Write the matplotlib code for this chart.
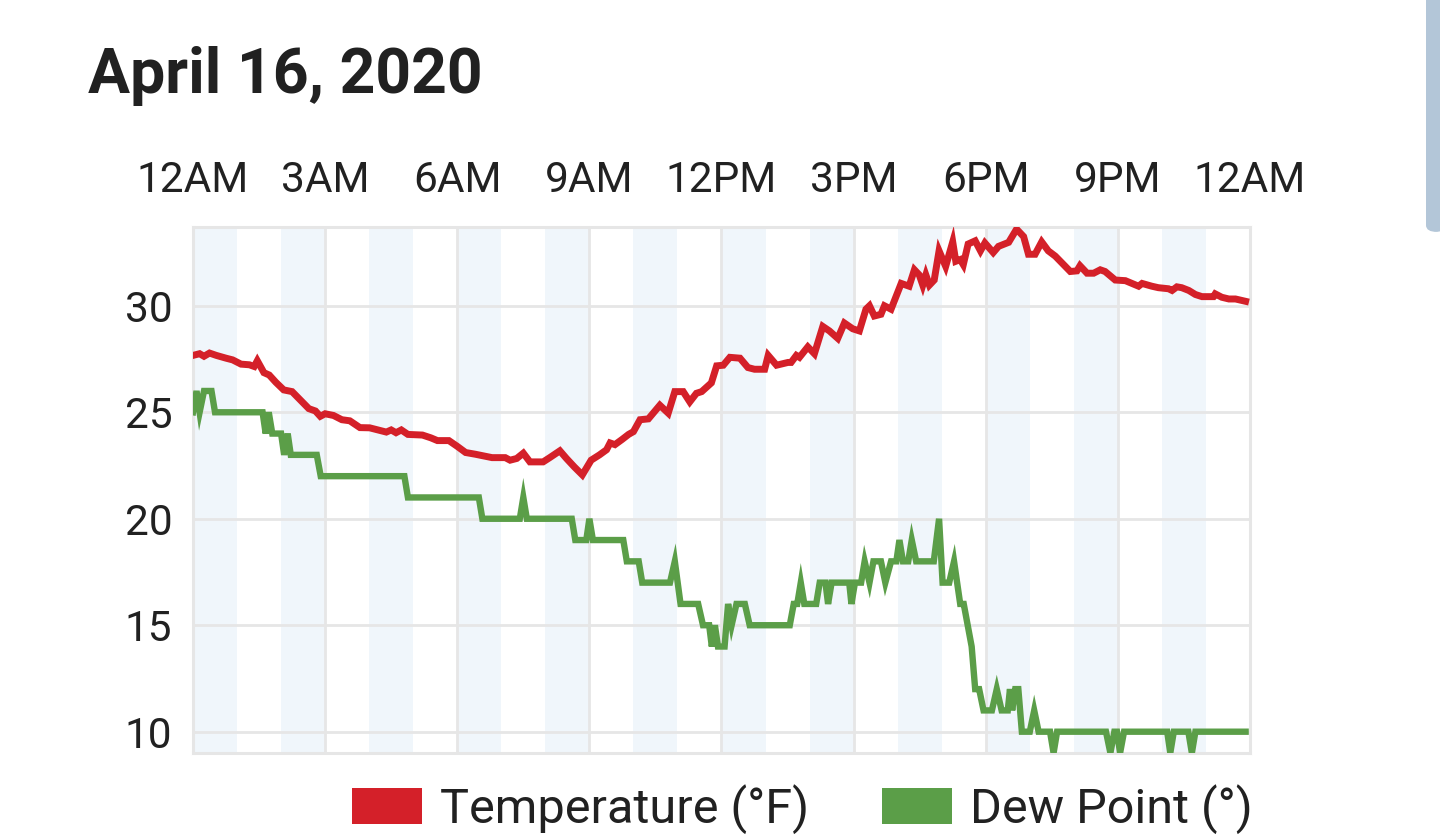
import matplotlib
matplotlib.use("Agg")
import matplotlib.pyplot as plt
from matplotlib.patches import Patch, FancyBboxPatch

plt.rcParams['font.family'] = ['Roboto', 'DejaVu Sans']

title = "April 16, 2020"
x_ticks = [0, 3, 6, 9, 12, 15, 18, 21, 24]
x_labels = ["12AM", "3AM", "6AM", "9AM", "12PM", "3PM", "6PM", "9PM", "12AM"]
y_ticks = [10, 15, 20, 25, 30]
shade_starts = [0, 2, 4, 6, 8, 10, 12, 14, 16, 18, 20, 22]

temp_h = [0.0, 0.15, 0.25, 0.375, 0.53, 0.75, 0.9, 1.09, 1.28, 1.39, 1.46, 1.61, 1.73, 1.88,
          2.06, 2.25, 2.44, 2.63, 2.78, 2.89, 3.0, 3.19, 3.38, 3.56, 3.79, 4.01, 4.2, 4.39,
          4.5, 4.61, 4.73, 4.88, 5.21, 5.4, 5.55, 5.81, 6.0, 6.19, 6.41, 6.6, 6.79, 7.09,
          7.2, 7.35, 7.5, 7.65, 7.95, 8.1, 8.33, 8.48, 8.66, 8.84, 9.04, 9.23, 9.39, 9.47,
          9.58, 9.74, 9.89, 10.0, 10.15, 10.34, 10.6, 10.79, 10.94, 11.13, 11.28, 11.43,
          11.55, 11.77, 11.89, 12.04, 12.19, 12.42, 12.6, 12.75, 12.98, 13.06, 13.25, 13.51,
          13.58, 13.7, 13.77, 13.96, 14.11, 14.3, 14.45, 14.64, 14.79, 14.98, 15.13, 15.28,
          15.36, 15.47, 15.62, 15.7, 15.85, 16.08, 16.26, 16.38, 16.49, 16.57, 16.64, 16.72,
          16.83, 16.94, 17.09, 17.25, 17.32, 17.42, 17.49, 17.6, 17.76, 17.88, 17.98, 18.17,
          18.29, 18.52, 18.7, 18.86, 18.97, 19.12, 19.27, 19.42, 19.58, 19.73, 19.92, 20.07,
          20.14, 20.3, 20.45, 20.6, 20.71, 20.94, 21.17, 21.32, 21.47, 21.55, 21.77, 21.92,
          22.15, 22.23, 22.34, 22.45, 22.61, 22.76, 22.91, 23.17, 23.21, 23.36, 23.52, 23.67,
          23.9]
temp_v = [27.67, 27.75, 27.63, 27.78, 27.67, 27.54, 27.46, 27.26, 27.23, 27.15, 27.42, 26.86,
          26.75, 26.41, 26.05, 25.97, 25.57, 25.17, 25.06, 24.81, 24.93, 24.85, 24.65, 24.6,
          24.28, 24.27, 24.17, 24.07, 24.17, 24.04, 24.17, 23.96, 23.93, 23.8, 23.67, 23.67,
          23.4, 23.11, 23.03, 22.95, 22.87, 22.87, 22.75, 22.83, 23.08, 22.67, 22.67, 22.87,
          23.19, 22.83, 22.43, 22.06, 22.75, 23.0, 23.24, 23.56, 23.48, 23.72, 23.96, 24.09,
          24.65, 24.69, 25.33, 24.96, 25.97, 25.97, 25.49, 25.89, 25.97, 26.38, 27.18, 27.21,
          27.58, 27.54, 27.1, 27.02, 27.02, 27.67, 27.21, 27.34, 27.34, 27.67, 27.58, 28.07,
          27.75, 29.03, 28.82, 28.47, 29.19, 28.92, 28.82, 29.84, 30.0, 29.52, 29.6, 30.0,
          29.84, 31.05, 30.92, 31.69, 31.45, 30.97, 31.45, 30.97, 31.21, 32.58, 31.85, 33.0,
          32.09, 32.17, 31.93, 32.9, 33.05, 32.58, 32.95, 32.5, 32.79, 32.98, 33.6, 33.25,
          32.42, 32.42, 33.0, 32.58, 32.33, 32.01, 31.61, 31.64, 31.88, 31.53, 31.53, 31.69,
          31.61, 31.21, 31.18, 31.05, 30.92, 31.05, 30.92, 30.85, 30.8, 30.72, 30.89, 30.85,
          30.72, 30.53, 30.43, 30.43, 30.56, 30.4, 30.32, 30.32, 30.21]

dew_h = [0.0, 0.08, 0.15, 0.25, 0.42, 0.5, 1.58, 1.65, 1.72, 1.8, 2.0, 2.07, 2.15, 2.22, 2.81,
         2.9, 4.8, 4.88, 6.49, 6.57, 7.42, 7.5, 7.58, 8.6, 8.68, 8.93, 9.0, 9.08, 9.77, 9.85,
         10.12, 10.2, 10.83, 10.94, 11.07, 11.47, 11.58, 11.72, 11.78, 11.85, 11.92, 12.07,
         12.15, 12.23, 12.34, 12.53, 12.64, 13.55, 13.64, 13.72, 13.8, 13.88, 14.15, 14.23,
         14.36, 14.42, 14.5, 14.9, 14.95, 15.03, 15.17, 15.25, 15.36, 15.45, 15.62, 15.72,
         15.85, 15.97, 16.04, 16.12, 16.24, 16.32, 16.42, 16.82, 16.94, 17.02, 17.17, 17.28,
         17.42, 17.5, 17.68, 17.76, 17.85, 17.95, 18.14, 18.25, 18.36, 18.5, 18.55, 18.6,
         18.67, 18.74, 18.82, 19.0, 19.1, 19.2, 19.46, 19.54, 19.62, 20.73, 20.83, 20.92,
         20.98, 21.05, 21.14, 22.12, 22.19, 22.27, 22.6, 22.68, 22.76, 23.9]
dew_v = [25, 26, 25, 26, 26, 25, 25, 24, 25, 24, 24, 23, 24, 23, 23,
         22, 22, 21, 21, 20, 20, 21, 20, 20, 19, 19, 20, 19, 19, 18,
         18, 17, 17, 18, 16, 16, 15, 15, 14, 15, 14, 14,
         16, 15, 16, 16, 15, 15, 16, 16, 17, 16, 16, 17,
         17, 16, 17, 17, 16, 17, 17, 18, 17, 18, 18, 17,
         18, 18, 19, 18, 18, 19, 18, 18, 20, 17, 17, 18,
         16, 16, 14, 12, 12, 11, 11, 12, 11, 11, 12, 11,
         12, 12, 10, 10, 11, 10, 10, 9, 10, 10, 9, 10,
         10, 9, 10, 10, 9, 10, 10, 9, 10, 10]

temp_color = "#d42029"
dew_color = "#5b9e48"
grid_color = "#e6e6e6"
shade_color = "#f0f6fb"
text_color = "#212121"

fig = plt.figure(figsize=(14.4, 8.4), dpi=100)
ax = fig.add_axes([193/1440, 1 - 753/840, (1250-193)/1440, (753-227)/840])

for s in shade_starts:
    ax.axvspan(s, s + 1, color=shade_color, lw=0, zorder=0.1)

ax.plot(temp_h, temp_v, color=temp_color, lw=5.0, solid_joinstyle='miter', zorder=3)
ax.plot(dew_h, dew_v, color=dew_color, lw=4.6, solid_joinstyle='miter', zorder=3)

ax.set_xlim(0, 24)
ax.set_ylim(9.0, 33.7)
ax.set_axisbelow(True)
ax.grid(True, color=grid_color, lw=2.0)
ax.xaxis.tick_top()
ax.set_xticks(x_ticks)
ax.set_xticklabels(x_labels)
ax.set_yticks(y_ticks)
ax.tick_params(axis='both', length=0, colors=text_color, labelsize=30.5)
ax.tick_params(axis='x', pad=19)
ax.tick_params(axis='y', pad=15)
for sp in ax.spines.values():
    sp.set_color(grid_color)
    sp.set_linewidth(2.2)

fig.text(88/1440, 1 - 76/840, title, fontsize=45, fontweight='bold',
         color=text_color, va='center', ha='left')

handles = [Patch(facecolor=temp_color, edgecolor='none', label="Temperature (°F)"),
           Patch(facecolor=dew_color, edgecolor='none', label="Dew Point (°)")]
fig.legend(handles=handles, loc='center left', bbox_to_anchor=(352/1440, 1 - 809/840),
           ncol=2, frameon=False, fontsize=35, handlelength=1.44, handleheight=0.74,
           handletextpad=0.37, columnspacing=1.5, borderpad=0, borderaxespad=0,
           labelcolor=text_color)

fig.patches.append(FancyBboxPatch((1426/1440, 1 - 232/840), 20/1440, 240/840,
                                  boxstyle="round,pad=0,rounding_size=0.008",
                                  transform=fig.transFigure, facecolor="#b3c6d8",
                                  edgecolor='none'))

fig.savefig("out.png", dpi=100)
